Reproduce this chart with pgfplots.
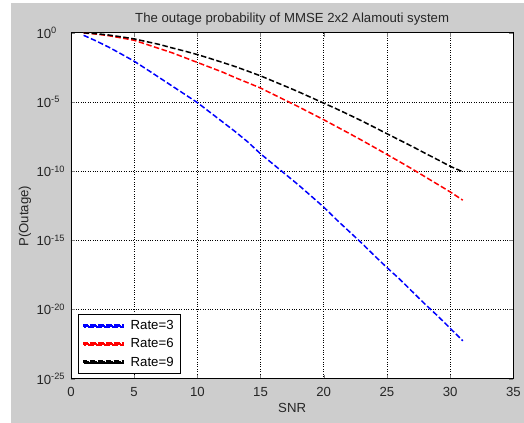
\documentclass[border=0pt]{standalone}
\usepackage{pgfplots}
\pgfplotsset{compat=1.18}
\usepackage{pgfplotstable}
\usepackage{fontspec}
\setmainfont{Liberation Sans}
\definecolor{figgray}{RGB}{205,205,205}
\newcommand{\ff}{\fontsize{13.2}{15}\selectfont}

\pgfplotstableread{
x y
1 6.457e-1
2 2.512e-1
3 8.913e-2
4 2.818e-2
5 8.710e-3
6 2.239e-3
7 5.623e-4
8 1.413e-4
9 3.548e-5
10 8.913e-6
11 1.778e-6
12 3.548e-7
13 7.079e-8
14 1.259e-8
15 1.778e-9
16 3.162e-10
17 5.623e-11
18 1e-11
19 1.585e-12
20 2.512e-13
21 3.162e-14
22 4.467e-15
23 6.310e-16
24 7.943e-17
25 1.072e-17
26 1.585e-18
27 1.995e-19
28 2.512e-20
29 3.548e-21
30 4.467e-22
31 5.495e-23
}\rateThree

\pgfplotstableread{
x y
1 9.550e-1
2 7.943e-1
3 6.026e-1
4 4.169e-1
5 2.818e-1
6 1.413e-1
7 7.079e-2
8 3.548e-2
9 1.585e-2
10 7.079e-3
11 3.162e-3
12 1.413e-3
13 5.623e-4
14 2.399e-4
15 1e-4
16 3.548e-5
17 1.259e-5
18 4.467e-6
19 1.514e-6
20 5.129e-7
21 1.660e-7
22 5.370e-8
23 1.698e-8
24 5.248e-9
25 1.585e-9
26 4.786e-10
27 1.413e-10
28 3.981e-11
29 1.122e-11
30 3.162e-12
31 7.943e-13
}\rateSix

\pgfplotstableread{
x y
1 9.772e-1
2 8.511e-1
3 6.761e-1
4 5.012e-1
5 3.548e-1
6 2.239e-1
7 1.413e-1
8 7.943e-2
9 4.677e-2
10 2.630e-2
11 1.380e-2
12 7.079e-3
13 3.548e-3
14 1.660e-3
15 7.586e-4
16 3.162e-4
17 1.318e-4
18 5.370e-5
19 2.089e-5
20 8.128e-6
21 3.162e-6
22 1.175e-6
23 4.266e-7
24 1.479e-7
25 5.012e-8
26 1.738e-8
27 6.026e-9
28 1.995e-9
29 6.761e-10
30 2.239e-10
31 8.913e-11
}\rateNine

\tikzset{mdash/.style={line width=1.5pt, dash pattern=on 5.5pt off 2.5pt}}

\begin{document}
\begin{tikzpicture}[x=1pt,y=1pt]
\fill[white] (0,0) rectangle (524,423);
\fill[figgray] (11.5,0) rectangle (524,420);
\begin{axis}[
  at={(71pt,44pt)}, anchor=south west,
  scale only axis, width=442.7pt, height=346.3pt,
  ymode=log,
  xmin=0, xmax=35, ymin=1e-25, ymax=1,
  xtick={0,5,...,35},
  ytick={1e-25,1e-20,1e-15,1e-10,1e-5,1},
  yticklabels={10\textsuperscript{-25},10\textsuperscript{-20},10\textsuperscript{-15},10\textsuperscript{-10},10\textsuperscript{-5},10\textsuperscript{0}},
  minor y tick num=0,
  minor ytick={},
  tick align=inside,
  major tick length=4pt,
  axis background/.style={fill=white},
  axis line style={black, line width=0.6pt},
  grid=major,
  major grid style={black, dotted, line width=0.6pt},
  /pgf/number format/assume math mode=true,
  tick label style={font=\ff, text=black!85},
  yticklabel style={anchor=west, xshift=-38pt},
  xticklabel style={yshift=-5pt},
  title={The outage probability of MMSE 2x2 Alamouti system},
  title style={font=\ff, yshift=-2pt, text=black!85},
  xlabel={SNR},
  ylabel={P(Outage)},
  every axis x label/.style={at={(axis description cs:0.5,-0.084)}, anchor=center, font=\ff, text=black!85},
  every axis y label/.style={at={(axis description cs:-0.104,0.47)}, anchor=center, rotate=90, font=\ff, text=black!85},
  legend style={at={(0.016,0.0145)}, anchor=south west, draw=black, fill=white,
    font=\ff, row sep=3.5pt, inner xsep=5pt, inner ysep=4pt,
    /tikz/every odd column/.append style={column sep=5pt}},
  legend cell align=left,
  legend image code/.code={%
    \path (0pt,-1pt) rectangle (39pt,1pt);
    \fill[#1] (0pt,-0.75pt) rectangle (5.5pt,0.75pt);
    \fill[#1] (8pt,-0.75pt) rectangle (13.5pt,0.75pt);
    \fill[#1] (16pt,-0.75pt) rectangle (21.5pt,0.75pt);
    \fill[#1] (24pt,-0.75pt) rectangle (29.5pt,0.75pt);
    \fill[#1] (32pt,-0.75pt) rectangle (37.5pt,0.75pt);},
]
\addplot[blue, mdash] table[x=x,y=y] {\rateThree};
\addlegendentry{Rate=3}
\addplot[red, mdash] table[x=x,y=y] {\rateSix};
\addlegendentry{Rate=6}
\addplot[black, mdash] table[x=x,y=y] {\rateNine};
\addlegendentry{Rate=9}
\end{axis}
\end{tikzpicture}
\end{document}
